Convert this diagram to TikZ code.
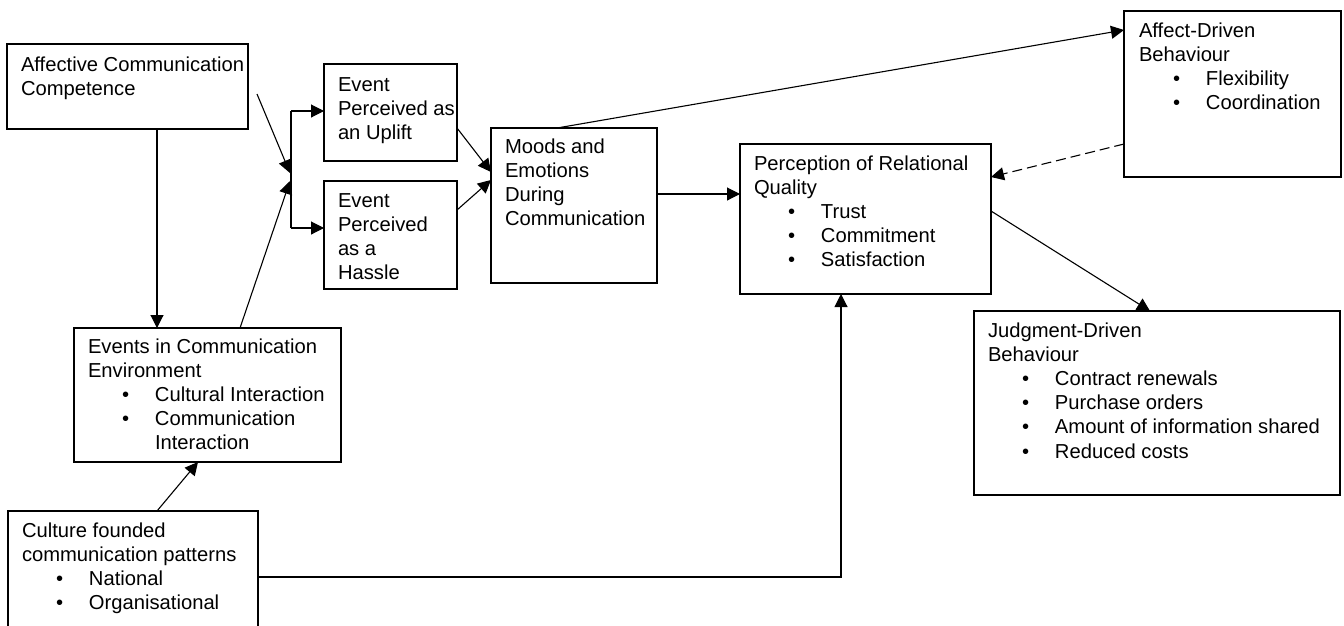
\documentclass[tikz,border=0pt]{standalone}
\usepackage{fontspec}
\setmainfont{Liberation Sans}
\usetikzlibrary{arrows.meta,calc}
\newcommand\bul[1]{\hspace*{34pt}\makebox[33pt][l]{•}#1}
\newcommand\cont[1]{\hspace*{67pt}#1}
\tikzset{
  box/.style={draw, line width=1.1pt, inner sep=0pt, outer sep=0pt, anchor=north west},
  txt/.style={inner sep=0pt, outer sep=0pt, anchor=base west},
  arr/.style={line width=1.1pt, -{Triangle[length=13pt,width=13pt]}},
  ln/.style={line width=1.1pt},
}
\newcommand\tx[2]{\parbox[t]{#1}{\raggedright\fontsize{20.2}{24.2}\selectfont #2}}
\begin{document}
\begin{tikzpicture}[x=1pt,y=-1pt]
\useasboundingbox (0,0) rectangle (1344,625);
% boxes
\node[box, minimum width=241pt, minimum height=85pt]  (aff) at (7,44) {};
\node[box, minimum width=267pt, minimum height=134pt] (env) at (74,328) {};
\node[box, minimum width=250pt, minimum height=130pt] (cul) at (8,511) {};
\node[box, minimum width=133pt, minimum height=97pt]  (up)  at (324,64) {};
\node[box, minimum width=133pt, minimum height=108pt] (hs)  at (324,181) {};
\node[box, minimum width=166pt, minimum height=155pt] (mood) at (491,128) {};
\node[box, minimum width=251pt, minimum height=150pt] (perc) at (740,144) {};
\node[box, minimum width=217pt, minimum height=166pt] (adb) at (1124,11) {};
\node[box, minimum width=366pt, minimum height=184pt] (jdb) at (974,311) {};
% texts
\node[txt] (aff-t) at ([xshift=14pt,yshift=-27pt]aff.north west) {\tx{230pt}{Affective Communication\\Competence}};
\node[txt] (env-t) at ([xshift=14pt,yshift=-25pt]env.north west) {\tx{250pt}{Events in Communication\\Environment\\\bul{Cultural Interaction}\\\bul{Communication}\\\cont{Interaction}}};
\node[txt] (cul-t) at ([xshift=14pt,yshift=-26pt]cul.north west) {\tx{236pt}{Culture founded\\communication patterns\\\bul{National}\\\bul{Organisational}}};
\node[txt] (up-t) at ([xshift=14pt,yshift=-27pt]up.north west) {\tx{125pt}{Event\\Perceived as\\an Uplift}};
\node[txt] (hs-t) at ([xshift=14pt,yshift=-26pt]hs.north west) {\tx{120pt}{Event\\Perceived\\as a\\Hassle}};
\node[txt] (mood-t) at ([xshift=14pt,yshift=-25pt]mood.north west) {\tx{150pt}{Moods and\\Emotions\\During\\Communication}};
\node[txt] (perc-t) at ([xshift=14pt,yshift=-26pt]perc.north west) {\tx{235pt}{Perception of Relational\\Quality\\\bul{Trust}\\\bul{Commitment}\\\bul{Satisfaction}}};
\node[txt] (adb-t) at ([xshift=15pt,yshift=-26pt]adb.north west) {\tx{200pt}{Affect-Driven\\Behaviour\\\bul{Flexibility}\\\bul{Coordination}}};
\node[txt] (jdb-t) at ([xshift=14pt,yshift=-26pt]jdb.north west) {\tx{350pt}{Judgment-Driven\\Behaviour\\\bul{Contract renewals}\\\bul{Purchase orders}\\\bul{Amount of information shared}\\\bul{Reduced costs}}};
% junction coordinates
\coordinate (s1) at (257,94);
\coordinate (j1) at (290,173);
\coordinate (j2) at (290,181);
\coordinate (jt) at (291,111);
\coordinate (jb) at (291,228);
% connectors
\draw[arr] ([xshift=150pt]aff.south west) -- ([xshift=83pt]env.north west);
\draw[arr] ([xshift=166pt]env.north west) -- (j2);
\draw[arr] (s1) -- (j1);
\draw[ln] (jt) -- (jb);
\draw[arr] (jt) -- (jt -| up.west);
\draw[arr] (jb) -- (jb -| hs.west);
\draw[arr] ([yshift=-64pt]up.north east) -- ([yshift=-44pt]mood.north west);
\draw[arr] ([yshift=-29pt]hs.north east) -- ([yshift=-52pt]mood.north west);
\draw[arr] ([yshift=-66pt]mood.north east) -- ([yshift=-50pt]perc.north west);
\draw[arr] ([xshift=66pt]mood.north west) -- ([yshift=-19pt]adb.north west);
\draw[arr, dashed, dash pattern=on 10pt off 5pt] ([yshift=-133pt]adb.north west) -- ([yshift=-33pt]perc.north east);
\draw[arr] ([yshift=-67pt]perc.north east) -- ([xshift=176pt]jdb.north west);
\draw[arr] ([xshift=149pt]cul.north west) -- ([xshift=124pt]env.south west);
\draw[arr] ([yshift=-66pt]cul.north east) -| ([xshift=101pt]perc.south west);
\end{tikzpicture}
\end{document}
